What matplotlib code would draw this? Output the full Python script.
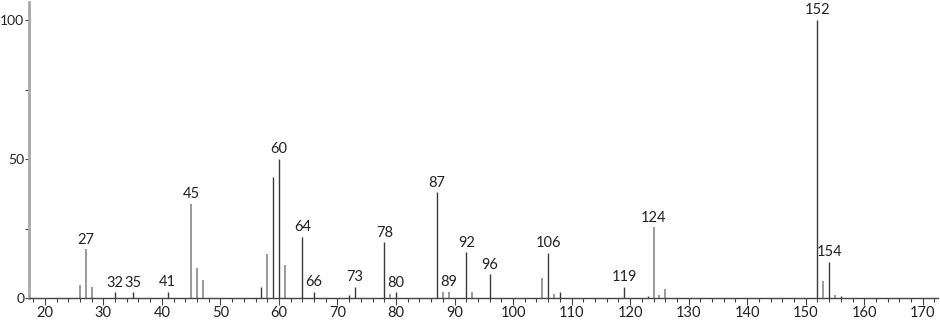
import numpy as np
import matplotlib
matplotlib.use('Agg')
import matplotlib.pyplot as plt
from matplotlib.ticker import MultipleLocator

# Peak list (m/z, relative intensity)
mz = [26, 27, 28, 32, 35, 41, 45, 46, 47, 57, 58, 59, 60, 61, 64, 66,
      72, 73, 78, 79, 80, 87, 88, 89, 92, 93, 96, 105, 106, 107, 108,
      119, 123, 124, 125, 126, 152, 153, 154, 155, 156]
intensity = [4.7, 17.5, 4.0, 2.0, 2.0, 2.3, 34.0, 10.8, 6.3, 4.0, 15.8, 43.4, 50.0, 12.0, 22.0, 2.3,
             1.0, 4.0, 20.0, 1.5, 2.0, 38.0, 2.2, 2.3, 16.4, 2.0, 8.5, 7.2, 16.2, 1.6, 2.0,
             4.0, 0.8, 25.4, 1.0, 3.3, 100.0, 6.2, 12.9, 1.0, 0.7]
labelled_mz = [27, 32, 35, 41, 45, 60, 64, 66, 73, 78, 80, 87, 89, 92, 96, 106, 119, 124, 152, 154]

# peaks drawn in the lighter grey
light_mz = {26, 27, 28, 45, 46, 47, 58, 61, 79, 88, 89, 93, 105, 107, 124, 125, 126, 153, 155}

DARK = '#3a3a3a'
LIGHT = '#9a9a9a'

plt.rcParams['font.family'] = ['Lato', 'DejaVu Sans']

fig = plt.figure(figsize=(9.4, 3.2), dpi=100)
ax = fig.add_axes([29 / 940, 22 / 320, 909 / 940, 296 / 320])

for m, v in zip(mz, intensity):
    light = m in light_mz
    ax.vlines(m, 0, v, color=LIGHT if light else DARK, lw=1.4 if light else 1.0)
    if m in labelled_mz:
        ax.annotate(str(m), (m, v), xytext=(0, 2), textcoords='offset points',
                    ha='center', va='bottom', fontsize=10.5, color='#222222')

ax.set_xlim(17.3, 172.6)
ax.set_ylim(0, 106.5)

ax.xaxis.set_major_locator(MultipleLocator(10))
ax.xaxis.set_minor_locator(MultipleLocator(2))
ax.yaxis.set_major_locator(MultipleLocator(50))
ax.yaxis.set_minor_locator(MultipleLocator(25))

ax.tick_params(axis='x', which='major', length=5, width=0.8, color='#444444',
               labelsize=10.5, labelcolor='#222222', pad=1)
ax.tick_params(axis='x', which='minor', length=3, width=0.8, color='#444444')
ax.tick_params(axis='y', which='major', length=3, width=0.8, color='#444444',
               labelsize=10, labelcolor='#222222', pad=0.5)
ax.tick_params(axis='y', which='minor', length=3, width=0.8, color='#444444')

for side in ['top', 'right']:
    ax.spines[side].set_visible(False)
ax.spines['left'].set_color('#a8a8a8')
ax.spines['left'].set_linewidth(2)
ax.spines['bottom'].set_color('#444444')
ax.spines['bottom'].set_linewidth(1)

fig.savefig('out.png', dpi=100)
